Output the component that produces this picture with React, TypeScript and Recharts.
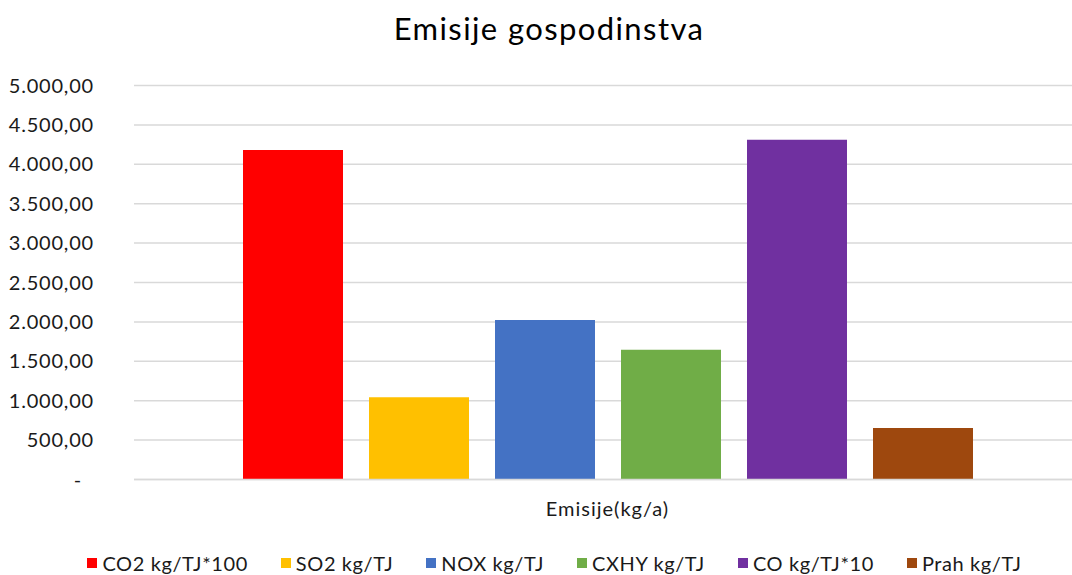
import { BarChart, Bar, XAxis, YAxis, CartesianGrid, Legend } from 'recharts';

const categories = ['Emisije(kg/a)'];
const seriesNames = ['CO2 kg/TJ*100', 'SO2 kg/TJ', 'NOX kg/TJ', 'CXHY kg/TJ', 'CO kg/TJ*10', 'Prah kg/TJ'];
const co2 = [4180];
const so2 = [1045];
const nox = [2025];
const cxhy = [1645];
const co = [4310];
const prah = [655];
const yTicks = [0, 500, 1000, 1500, 2000, 2500, 3000, 3500, 4000, 4500, 5000];

const seriesValues = [co2, so2, nox, cxhy, co, prah];
const seriesColors = ['#FF0000', '#FFC000', '#4472C4', '#70AD47', '#7030A0', '#9E480E'];
const keys = ['s0', 's1', 's2', 's3', 's4', 's5'];

const chartData = categories.map((name, i) => {
  const row: Record<string, string | number> = { name };
  seriesValues.forEach((vals, s) => {
    row[keys[s]] = vals[i];
  });
  return row;
});

const FONT = 'Lato, "Open Sans", sans-serif';

function formatNumber(v: number) {
  if (v === 0) return '-';
  const [intPart, dec] = v.toFixed(2).split('.');
  return intPart.replace(/\B(?=(\d{3})+(?!\d))/g, '.') + ',' + dec;
}

function YTick({ x, y, payload }: any) {
  const v = payload.value as number;
  return (
    <text
      x={v === 0 ? x - 12 : x}
      y={y}
      dy={7}
      textAnchor="end"
      fontFamily={FONT}
      fontSize={20}
      letterSpacing={0.8}
      fill="#1a1a1a"
    >
      {formatNumber(v)}
    </text>
  );
}

function LegendContent() {
  return (
    <div
      style={{
        display: 'flex',
        justifyContent: 'center',
        gap: 33,
        paddingLeft: 37,
        paddingTop: 11,
        fontFamily: FONT,
        fontSize: 20,
        letterSpacing: 0.6,
        color: '#1a1a1a',
        whiteSpace: 'nowrap'
      }}
    >
      {seriesNames.map((n, i) => (
        <div key={n} style={{ display: 'flex', alignItems: 'center', gap: 5 }}>
          <span style={{ width: 10, height: 10, background: seriesColors[i], display: 'inline-block' }} />
          <span>{n}</span>
        </div>
      ))}
    </div>
  );
}

export default function App() {
  return (
    <div style={{ position: 'absolute', left: 0, top: 0, width: 1072, height: 575, background: '#fff' }}>
      <div
        style={{
          position: 'absolute',
          left: 0,
          top: 9,
          width: 1098,
          textAlign: 'center',
          fontFamily: FONT,
          fontSize: 31,
          letterSpacing: 1.4,
          color: '#000'
        }}
      >
        Emisije gospodinstva
      </div>
      <BarChart
        width={1072}
        height={575}
        data={chartData}
        margin={{ top: 85.5, right: 0, left: 0, bottom: 0.5 }}
        barSize={100}
        barGap={26}
      >
        <CartesianGrid vertical={false} stroke="#d9d9d9" strokeWidth={1.5} />
        <XAxis
          dataKey="name"
          padding={{ left: 9, right: 0 }}
          tickLine={false}
          tickSize={0}
          tickMargin={22}
          height={60}
          axisLine={{ stroke: '#d9d9d9', strokeWidth: 1.5 }}
          tick={{ fontFamily: FONT, fontSize: 20, fill: '#1a1a1a', letterSpacing: 1 }}
        />
        <YAxis
          width={134}
          domain={[0, 5000]}
          ticks={yTicks}
          interval={0}
          axisLine={false}
          tickLine={false}
          tickSize={0}
          tickMargin={40}
          tick={<YTick />}
        />
        <Legend verticalAlign="bottom" height={35} content={<LegendContent />} />
        {keys.map((k, i) => (
          <Bar key={k} dataKey={k} name={seriesNames[i]} fill={seriesColors[i]} isAnimationActive={false} />
        ))}
      </BarChart>
    </div>
  );
}
